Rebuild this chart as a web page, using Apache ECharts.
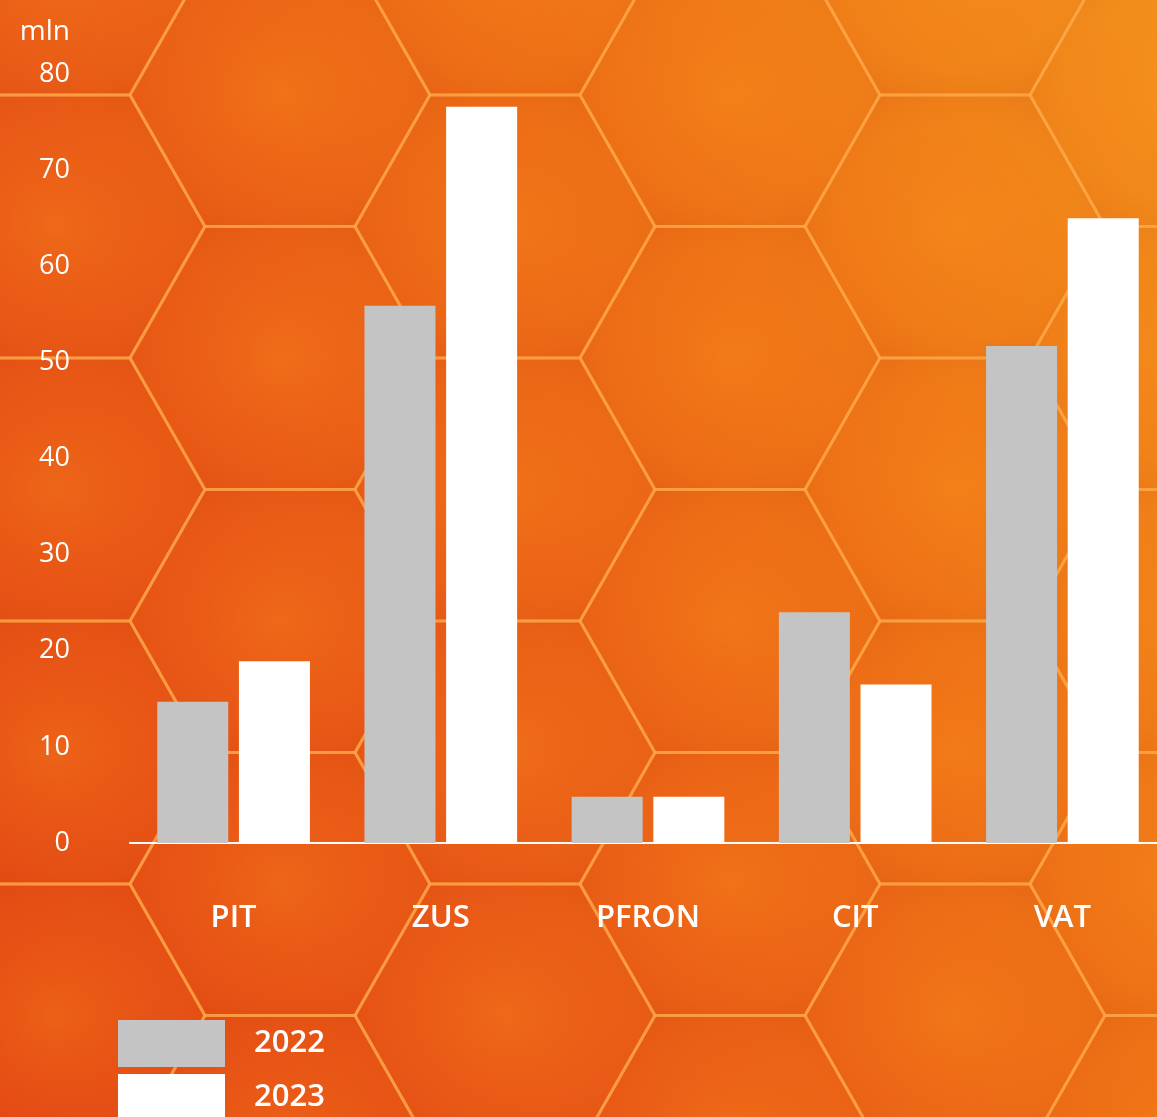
<!DOCTYPE html>
<html>
<head>
<meta charset="utf-8">
<script src="https://cdn.jsdelivr.net/npm/echarts@6/dist/echarts.min.js"></script>
<style>
  html, body { margin: 0; padding: 0; width: 1157px; height: 1117px; overflow: hidden; }
  #wrap { position: relative; width: 1157px; height: 1117px; overflow: hidden;
    background: linear-gradient(60deg, #e34914 0%, #e85a17 35%, #ed7116 65%, #f1901c 100%); }
  #bg { position: absolute; left: 0; top: 0; width: 1157px; height: 1117px; }
  #chart { position: absolute; left: 0; top: 0; width: 1200px; height: 1117px; }
</style>
</head>
<body>
<div id="wrap">
  <div id="bg"></div>
  <div id="chart"></div>
</div>
<script>
// ---- data ----
const categories = ['PIT', 'ZUS', 'PFRON', 'CIT', 'VAT'];
const seriesNames = ['2022', '2023'];
const values2022 = [14.7, 55.9, 4.8, 24.0, 51.7];
const values2023 = [18.9, 76.6, 4.8, 16.5, 65.0];
const yTicks = { min: 0, max: 80, interval: 10 };
const unitLabel = 'mln';

// ---- decorative honeycomb background ----
(function () {
  const s = 150, h = 131.5;
  let polys = '';
  for (let k = -2; k <= 5; k++) {
    for (let j = -1; j <= 5; j++) {
      const cx = 280 + 225 * k;
      const cy = 95 + (Math.abs(k) % 2 ? h : 0) + 2 * h * j;
      const pts = [[cx - s, cy], [cx - s / 2, cy - h], [cx + s / 2, cy - h],
                   [cx + s, cy], [cx + s / 2, cy + h], [cx - s / 2, cy + h]]
        .map(p => p.join(',')).join(' ');
      polys += '<polygon points="' + pts + '" fill="url(#glow)" stroke="rgba(255,170,75,0.6)" stroke-width="3"/>';
    }
  }
  document.getElementById('bg').innerHTML =
    '<svg xmlns="http://www.w3.org/2000/svg" width="1157" height="1117">' +
    '<defs><radialGradient id="glow" cx="50%" cy="50%" r="55%">' +
    '<stop offset="0%" stop-color="rgba(255,150,30,0.28)"/>' +
    '<stop offset="70%" stop-color="rgba(255,120,20,0.06)"/>' +
    '<stop offset="100%" stop-color="rgba(190,40,0,0.10)"/>' +
    '</radialGradient></defs>' + polys + '</svg>';
})();

// ---- chart ----
const chart = echarts.init(document.getElementById('chart'), null, { renderer: 'canvas' });
const font = "'Open Sans', 'Noto Sans', sans-serif";
const legendText = { color: '#fff', fontSize: 31, fontWeight: 600, fontFamily: font, padding: [7, 0, 0, 24] };
chart.setOption({
  backgroundColor: 'transparent',
  animation: false,
  textStyle: { fontFamily: font },
  grid: { left: 130, width: 1036, top: 74, bottom: 274, containLabel: false },
  legend: [
    {
      orient: 'vertical', left: 113, top: 1015,
      itemWidth: 107, itemHeight: 47, icon: 'rect',
      data: [seriesNames[0]], textStyle: legendText
    },
    {
      orient: 'vertical', left: 113, top: 1069,
      itemWidth: 107, itemHeight: 47, icon: 'rect',
      data: [seriesNames[1]], textStyle: legendText
    }
  ],
  xAxis: {
    type: 'category',
    data: categories,
    axisLine: { show: true, lineStyle: { color: '#fff', width: 2 } },
    axisTick: { show: false },
    axisLabel: { color: '#fff', fontSize: 31, fontWeight: 600, fontFamily: font, margin: 60 },
    splitLine: { show: false }
  },
  yAxis: {
    type: 'value',
    min: yTicks.min,
    max: yTicks.max,
    interval: yTicks.interval,
    name: unitLabel,
    nameLocation: 'end',
    nameGap: 28,
    nameTextStyle: { color: '#fff', fontSize: 28, fontFamily: font, align: 'right', padding: [0, 60, 0, 0] },
    axisLine: { show: false },
    axisTick: { show: false },
    splitLine: { show: false },
    axisLabel: { color: '#fff', fontSize: 27, fontFamily: font, margin: 60, padding: [8, 0, 0, 0] }
  },
  series: [
    {
      name: seriesNames[0], type: 'bar', data: values2022,
      barWidth: 71, barGap: '15%',
      itemStyle: { color: '#c4c4c4' }
    },
    {
      name: seriesNames[1], type: 'bar', data: values2023,
      barWidth: 71, barGap: '15%',
      itemStyle: { color: '#ffffff' }
    }
  ]
});
</script>
</body>
</html>
